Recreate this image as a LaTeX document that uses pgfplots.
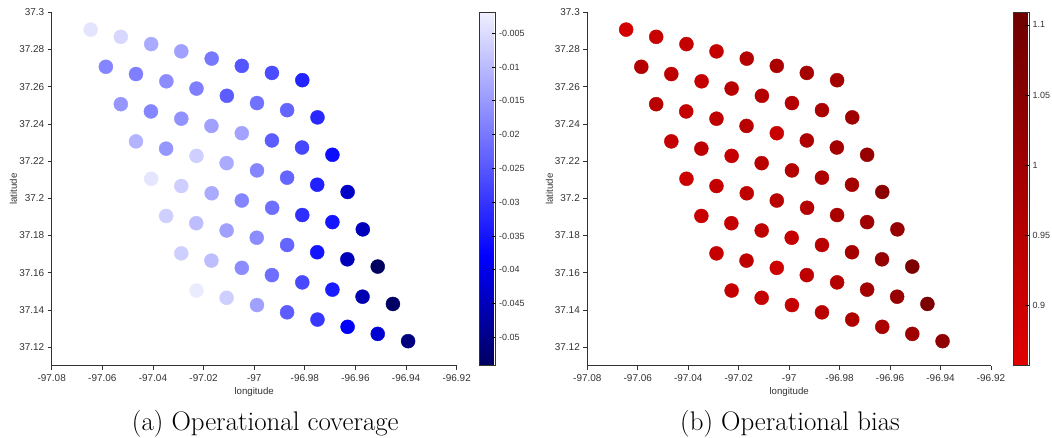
\documentclass[border=0pt]{standalone}
\usepackage{fontspec}
\newfontfamily\sansf{Liberation Sans}
\usepackage{pgfplots}
\usepackage{pgfplotstable}
\pgfplotsset{compat=1.18}
\definecolor{axgray}{RGB}{50,50,50}

\pgfplotstableread{
x y cov bias
-97.0646 37.2907 -0.0037 0.890
-97.0527 37.2868 -0.0057 0.912
-97.0407 37.2829 -0.0124 0.920
-97.0288 37.2790 -0.0139 0.920
-97.0168 37.2751 -0.0200 0.955
-97.0049 37.2712 -0.0252 0.977
-96.9930 37.2674 -0.0267 0.990
-96.9810 37.2635 -0.0327 0.990
-97.0586 37.2707 -0.0180 0.955
-97.0467 37.2668 -0.0190 0.934
-97.0347 37.2629 -0.0170 0.920
-97.0228 37.2590 -0.0190 0.944
-97.0108 37.2551 -0.0240 0.955
-96.9989 37.2512 -0.0210 0.955
-96.9870 37.2474 -0.0230 0.977
-96.9750 37.2435 -0.0320 1.000
-97.0527 37.2506 -0.0155 0.944
-97.0408 37.2467 -0.0180 0.920
-97.0288 37.2428 -0.0160 0.934
-97.0169 37.2389 -0.0140 0.944
-97.0049 37.2350 -0.0135 0.912
-96.9930 37.2311 -0.0240 0.966
-96.9811 37.2273 -0.0275 0.990
-96.9691 37.2234 -0.0360 1.020
-97.0467 37.2306 -0.0110 0.920
-97.0348 37.2267 -0.0155 0.934
-97.0228 37.2228 -0.0070 0.920
-97.0109 37.2189 -0.0124 0.944
-96.9989 37.2150 -0.0180 0.955
-96.9870 37.2111 -0.0230 0.966
-96.9751 37.2073 -0.0330 0.990
-96.9631 37.2034 -0.0437 1.043
-97.0407 37.2105 -0.0035 0.900
-97.0288 37.2066 -0.0070 0.920
-97.0168 37.2027 -0.0124 0.934
-97.0049 37.1988 -0.0180 0.944
-96.9929 37.1949 -0.0215 0.955
-96.9810 37.1910 -0.0310 0.977
-96.9691 37.1872 -0.0350 1.000
-96.9571 37.1833 -0.0448 1.020
-97.0348 37.1905 -0.0070 0.910
-97.0229 37.1866 -0.0094 0.920
-97.0109 37.1827 -0.0140 0.934
-96.9990 37.1788 -0.0170 0.920
-96.9870 37.1749 -0.0230 0.944
-96.9751 37.1710 -0.0350 0.990
-96.9632 37.1672 -0.0450 1.020
-96.9512 37.1633 -0.0540 1.076
-97.0288 37.1704 -0.0070 0.920
-97.0169 37.1665 -0.0094 0.934
-97.0049 37.1626 -0.0170 0.900
-96.9930 37.1587 -0.0215 0.934
-96.9810 37.1548 -0.0270 0.955
-96.9691 37.1509 -0.0340 0.990
-96.9572 37.1471 -0.0460 1.020
-96.9452 37.1432 -0.0537 1.076
-97.0228 37.1504 -0.0027 0.920
-97.0109 37.1465 -0.0070 0.920
-96.9989 37.1426 -0.0140 0.920
-96.9870 37.1387 -0.0240 0.944
-96.9750 37.1348 -0.0297 0.966
-96.9631 37.1309 -0.0385 0.977
-96.9512 37.1271 -0.0425 1.000
-96.9392 37.1232 -0.0510 1.032
}\sites

\pgfplotsset{
  mapstyle/.style={
    scale only axis,
    xmin=-97.08, xmax=-96.92, ymin=37.11, ymax=37.3,
    axis x line*=bottom, axis y line*=left,
    tick align=outside, major tick length=4bp,
    axis line style={draw=axgray, line width=0.7bp},
    every tick/.style={draw=axgray, line width=0.7bp},
    xtick={-97.08,-97.06,-97.04,-97.02,-97,-96.98,-96.96,-96.94,-96.92},
    xticklabels={-97.08,-97.06,-97.04,-97.02,-97,-96.98,-96.96,-96.94,-96.92},
    ytick={37.12,37.14,37.16,37.18,37.2,37.22,37.24,37.26,37.28,37.3},
    yticklabels={37.12,37.14,37.16,37.18,37.2,37.22,37.24,37.26,37.28,37.3},
    ticklabel style={font=\sansf\fontsize{10}{12}\selectfont, text=axgray},
    xticklabel style={yshift=-1bp},
    label style={font=\sansf\fontsize{9.7}{11}\selectfont, text=axgray},
    xlabel={longitude}, ylabel={latitude},
    xlabel style={at={(axis description cs:0.5,-0.0744)}, anchor=center},
    clip=false,
  },
  cbstyle/.style={
    at={(parent axis.north east)}, anchor=north west,
    scale only axis, width=16.5bp, height=353.4bp,
    tick align=inside, major tick length=4bp,
    ytick pos=right, yticklabel pos=right,
    scaled y ticks=false,
    axis line style={draw=axgray, line width=0.6bp},
    every tick/.style={draw=black, line width=0.7bp},
    ticklabel style={font=\sansf\fontsize{9}{11}\selectfont, text=axgray},
  },
}

\begin{document}
\begin{tikzpicture}
\path[use as bounding box] (0,0) rectangle (1052bp,438bp);

\begin{axis}[mapstyle,
  at={(51.7bp,72.3bp)}, anchor=south west,
  width=405bp, height=353.4bp,
  ylabel style={at={(axis description cs:-0.0948,0.5)}, anchor=center},
  colormap={cov}{rgb255(0cm)=(0,0,95); rgb255(31cm)=(0,0,255); rgb255(100cm)=(240,240,255)},
  point meta min=-0.0542, point meta max=-0.0019,
  colorbar,
  colorbar style={cbstyle, xshift=14bp,
    ytick={-0.05,-0.045,-0.04,-0.035,-0.03,-0.025,-0.02,-0.015,-0.01,-0.005},
    yticklabels={-0.05,-0.045,-0.04,-0.035,-0.03,-0.025,-0.02,-0.015,-0.01,-0.005}},
]
\addplot[scatter, only marks, mark=*, mark size=7bp, point meta=explicit,
  scatter/use mapped color={draw=mapped color, fill=mapped color}]
  table[x=x, y=y, meta=cov] {\sites};
\end{axis}

\begin{axis}[mapstyle,
  at={(587.3bp,72.3bp)}, anchor=south west,
  width=403.7bp, height=353.4bp,
  ylabel style={at={(axis description cs:-0.0936,0.5)}, anchor=center},
  colormap={bias}{rgb255(0cm)=(225,0,0); rgb255(1cm)=(110,0,0)},
  point meta min=0.8568, point meta max=1.109,
  colorbar,
  colorbar style={cbstyle, xshift=13.6bp, width=16bp,
    ytick={0.9,0.95,1,1.05,1.1},
    yticklabels={0.9,0.95,1,1.05,1.1}},
]
\addplot[scatter, only marks, mark=*, mark size=7bp, point meta=explicit,
  scatter/use mapped color={draw=mapped color, fill=mapped color}]
  table[x=x, y=y, meta=bias] {\sites};
\end{axis}

\node[anchor=base, font=\fontsize{27}{32}\selectfont] at (265.3bp,8bp) {(a) Operational coverage};
\node[anchor=base, font=\fontsize{27}{32}\selectfont] at (790bp,8bp) {(b) Operational bias};
\end{tikzpicture}
\end{document}
